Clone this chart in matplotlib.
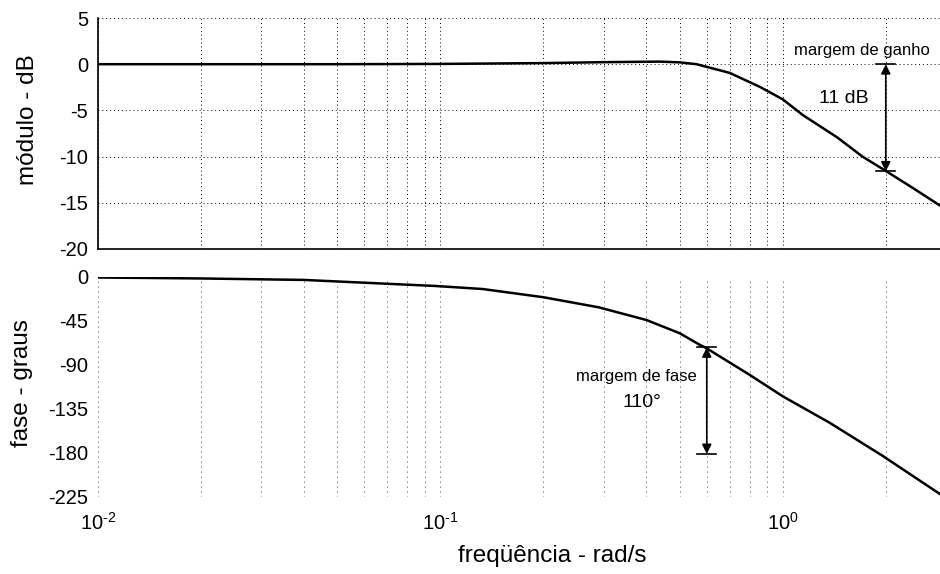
import matplotlib
matplotlib.use('Agg')
import matplotlib.pyplot as plt
from matplotlib.ticker import FixedLocator, FixedFormatter, LogLocator, NullFormatter

plt.rcParams['font.family'] = ['Liberation Sans', 'DejaVu Sans']
plt.rcParams['axes.unicode_minus'] = False
plt.rcParams['mathtext.fontset'] = 'custom'
plt.rcParams['mathtext.rm'] = 'Liberation Sans'
plt.rcParams['mathtext.it'] = 'Liberation Sans:italic'
plt.rcParams['mathtext.bf'] = 'Liberation Sans:bold'

# ---- data ----
freq_mag = [0.01, 0.02, 0.05, 0.1, 0.2, 0.3, 0.437, 0.5, 0.56, 0.7, 0.857,
            1.0, 1.144, 1.44, 1.71, 2.01, 2.4, 2.88]
mag_db = [0.0, 0.0, 0.0, 0.03, 0.12, 0.22, 0.28, 0.2, 0.0, -0.94, -2.45,
          -3.8, -5.5, -7.9, -10.0, -11.6, -13.4, -15.3]

freq_phase = [0.01, 0.02, 0.04, 0.076, 0.097, 0.133, 0.2, 0.29, 0.4, 0.5,
              0.57, 0.6, 0.8, 1.0, 1.37, 1.96, 2.88]
phase_deg = [-0.5, -1.5, -3.0, -7.5, -9.2, -12.3, -20.7, -31.0, -44.0, -57.5,
             -69.0, -73.0, -100.0, -122.0, -149.0, -183.0, -222.0]

mag_ticks = [5, 0, -5, -10, -15, -20]
phase_ticks = [0, -45, -90, -135, -180, -225]
x_ticks = [0.01, 0.1, 1.0]
x_tick_labels = ['10$^{\u2010 2}$', '10$^{\u2010 1}$', '10$^{0}$']
x_limits = (0.01, 2.88)

gm_freq, gm_top, gm_bottom = 2.0, 0.0, -11.6
pm_freq, pm_top, pm_bottom = 0.6, -72.0, -181.0

label_mag = 'módulo - dB'
label_phase = 'fase - graus'
label_freq = 'freqüência - rad/s'
txt_gm = 'margem de ganho'
txt_gm_val = '11 dB'
txt_pm = 'margem de fase'
txt_pm_val = '110°'

# ---- figure ----
W, H = 940, 574
fig = plt.figure(figsize=(W / 100, H / 100), dpi=100)
ax1 = fig.add_axes([98 / W, 1 - 249 / H, 842 / W, 231 / H])
ax2 = fig.add_axes([98 / W, 1 - 497 / H, 842 / W, 220 / H])

grid_kw = dict(color='black', linestyle=(0, (1, 3)), linewidth=0.7)

for ax in (ax1, ax2):
    ax.set_xscale('log')
    ax.set_xlim(*x_limits)
    ax.xaxis.set_major_locator(FixedLocator(x_ticks))
    ax.xaxis.set_minor_locator(LogLocator(base=10, subs=range(2, 10)))
    ax.xaxis.set_minor_formatter(NullFormatter())
    ax.tick_params(which='both', length=0, labelsize=14.5)
    ax.tick_params(axis='y', pad=7)
    ax.tick_params(axis='x', pad=11)
    ax.spines['top'].set_visible(False)
    ax.spines['right'].set_visible(False)

# top: magnitude
ax1.plot(freq_mag, mag_db, color='black', linewidth=1.8)
ax1.set_ylim(-20, 5)
ax1.yaxis.set_major_locator(FixedLocator(mag_ticks))
ax1.set_xticklabels([])
ax1.grid(True, which='both', axis='x', **grid_kw)
ax1.grid(True, which='major', axis='y', **grid_kw)
ax1.spines['left'].set_linewidth(1.2)
ax1.spines['bottom'].set_linewidth(1.2)

ax1.annotate('', xy=(gm_freq, gm_bottom), xytext=(gm_freq, gm_top),
             arrowprops=dict(arrowstyle='<|-|>', color='black', lw=1.2,
                             mutation_scale=14, shrinkA=0, shrinkB=0))
for yv in (gm_top, gm_bottom):
    ax1.plot([gm_freq / 1.065, gm_freq * 1.065], [yv, yv], color='black', lw=1.2)
ax1.text(1.70, 1.5, txt_gm, ha='center', va='center', fontsize=12)
ax1.text(1.51, -3.7, txt_gm_val, ha='center', va='center', fontsize=14)

# bottom: phase
ax2.plot(freq_phase, phase_deg, color='black', linewidth=1.8)
ax2.set_ylim(-225, 0)
ax2.yaxis.set_major_locator(FixedLocator(phase_ticks))
ax2.xaxis.set_major_formatter(FixedFormatter(x_tick_labels))
ax2.grid(True, which='both', axis='x', color='black',
         linestyle=(0, (1, 5)), linewidth=0.6)
ax2.spines['left'].set_visible(False)
ax2.spines['bottom'].set_visible(False)

ax2.annotate('', xy=(pm_freq, pm_bottom), xytext=(pm_freq, pm_top),
             arrowprops=dict(arrowstyle='<|-|>', color='black', lw=1.2,
                             mutation_scale=14, shrinkA=0, shrinkB=0))
for yv in (pm_top, pm_bottom):
    ax2.plot([pm_freq / 1.065, pm_freq * 1.065], [yv, yv], color='black', lw=1.2)
ax2.text(0.374, -102, txt_pm, ha='center', va='center', fontsize=12)
ax2.text(0.387, -128, txt_pm_val, ha='center', va='center', fontsize=14)

# axis labels
fig.text(28 / W, 1 - 120 / H, label_mag, rotation=90, ha='center', va='center', fontsize=17.5)
fig.text(22 / W, 1 - 383 / H, label_phase, rotation=90, ha='center', va='center', fontsize=17.5)
fig.text(552 / W, 1 - 556 / H, label_freq, ha='center', va='center', fontsize=17.5)

fig.savefig('out.png', dpi=100)
